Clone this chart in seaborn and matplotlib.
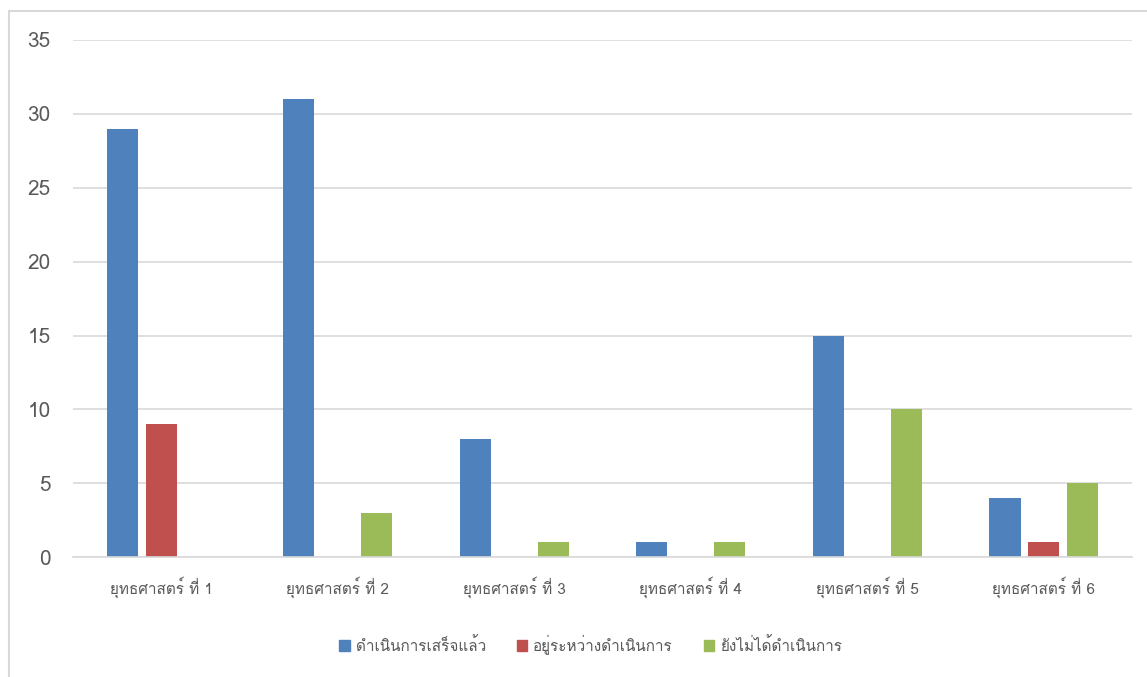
import matplotlib
matplotlib.use("Agg")
import matplotlib.pyplot as plt
from matplotlib import font_manager
from matplotlib.ft2font import FT2Font
from matplotlib.patches import Rectangle
import pandas as pd
import seaborn as sns

categories = ["ยุทธศาสตร์ ที่ 1", "ยุทธศาสตร์ ที่ 2", "ยุทธศาสตร์ ที่ 3",
              "ยุทธศาสตร์ ที่ 4", "ยุทธศาสตร์ ที่ 5", "ยุทธศาสตร์ ที่ 6"]
series_names = ["ดำเนินการเสร็จแล้ว", "อยู่ระหว่างดำเนินการ", "ยังไม่ได้ดำเนินการ"]
done = [29, 31, 8, 1, 15, 4]
in_progress = [9, 0, 0, 0, 0, 1]
not_started = [0, 3, 1, 1, 10, 5]
colors = ["#4F81BD", "#C0504D", "#9BBB59"]

rows = []
for i, c in enumerate(categories):
    rows.append((c, series_names[0], done[i]))
    rows.append((c, series_names[1], in_progress[i]))
    rows.append((c, series_names[2], not_started[i]))
df = pd.DataFrame(rows, columns=["cat", "status", "value"])

sns.set_style("white")

## find an installed font that has Thai glyphs
thai_font = None
for f in font_manager.fontManager.ttflist:
    try:
        if ord("ก") in FT2Font(f.fname).get_charmap():
            thai_font = f.name
            break
    except Exception:
        pass
families = ([thai_font] if thai_font else []) + ["DejaVu Sans"]
plt.rcParams["font.family"] = families

fig = plt.figure(figsize=(11.47, 6.77), dpi=100)
ax = fig.add_axes([0.0636, 0.177, 0.9234, 0.764])

sns.barplot(data=df, x="cat", y="value", hue="status", palette=colors,
            saturation=1, width=0.66, gap=0.2, linewidth=0, legend=False, ax=ax)

ax.set_ylim(0, 35)
ax.set_xlim(-0.5, 5.5)
ax.set_yticks(range(0, 36, 5))
ax.yaxis.grid(True, color="#D9D9D9", linewidth=1.2)
ax.set_axisbelow(True)
for s in ["top", "right", "left"]:
    ax.spines[s].set_visible(False)
ax.spines["bottom"].set_color("#D9D9D9")
ax.spines["bottom"].set_linewidth(1.2)
ax.tick_params(axis="y", length=0, labelsize=15, labelcolor="#595959", pad=16)
ax.tick_params(axis="x", length=0, labelsize=11, labelcolor="#595959", pad=14)
ax.set_xlabel("")
ax.set_ylabel("")

handles = [Rectangle((0, 0), 1, 1, color=c) for c in colors]
fig.legend(handles, series_names, loc="center", ncol=3, frameon=False,
           bbox_to_anchor=(0.515, 1 - 645 / 677), fontsize=11,
           handlelength=0.7, handleheight=0.7, columnspacing=2.0,
           handletextpad=0.4, labelcolor="#595959")

## outer chart frame
fig.patches.append(Rectangle((9 / 1147, -0.01), 1.0, 1 - 11 / 677 + 0.01,
                             transform=fig.transFigure, fill=False,
                             edgecolor="#D9D9D9", linewidth=1.5))

fig.savefig("out.png", dpi=100)
